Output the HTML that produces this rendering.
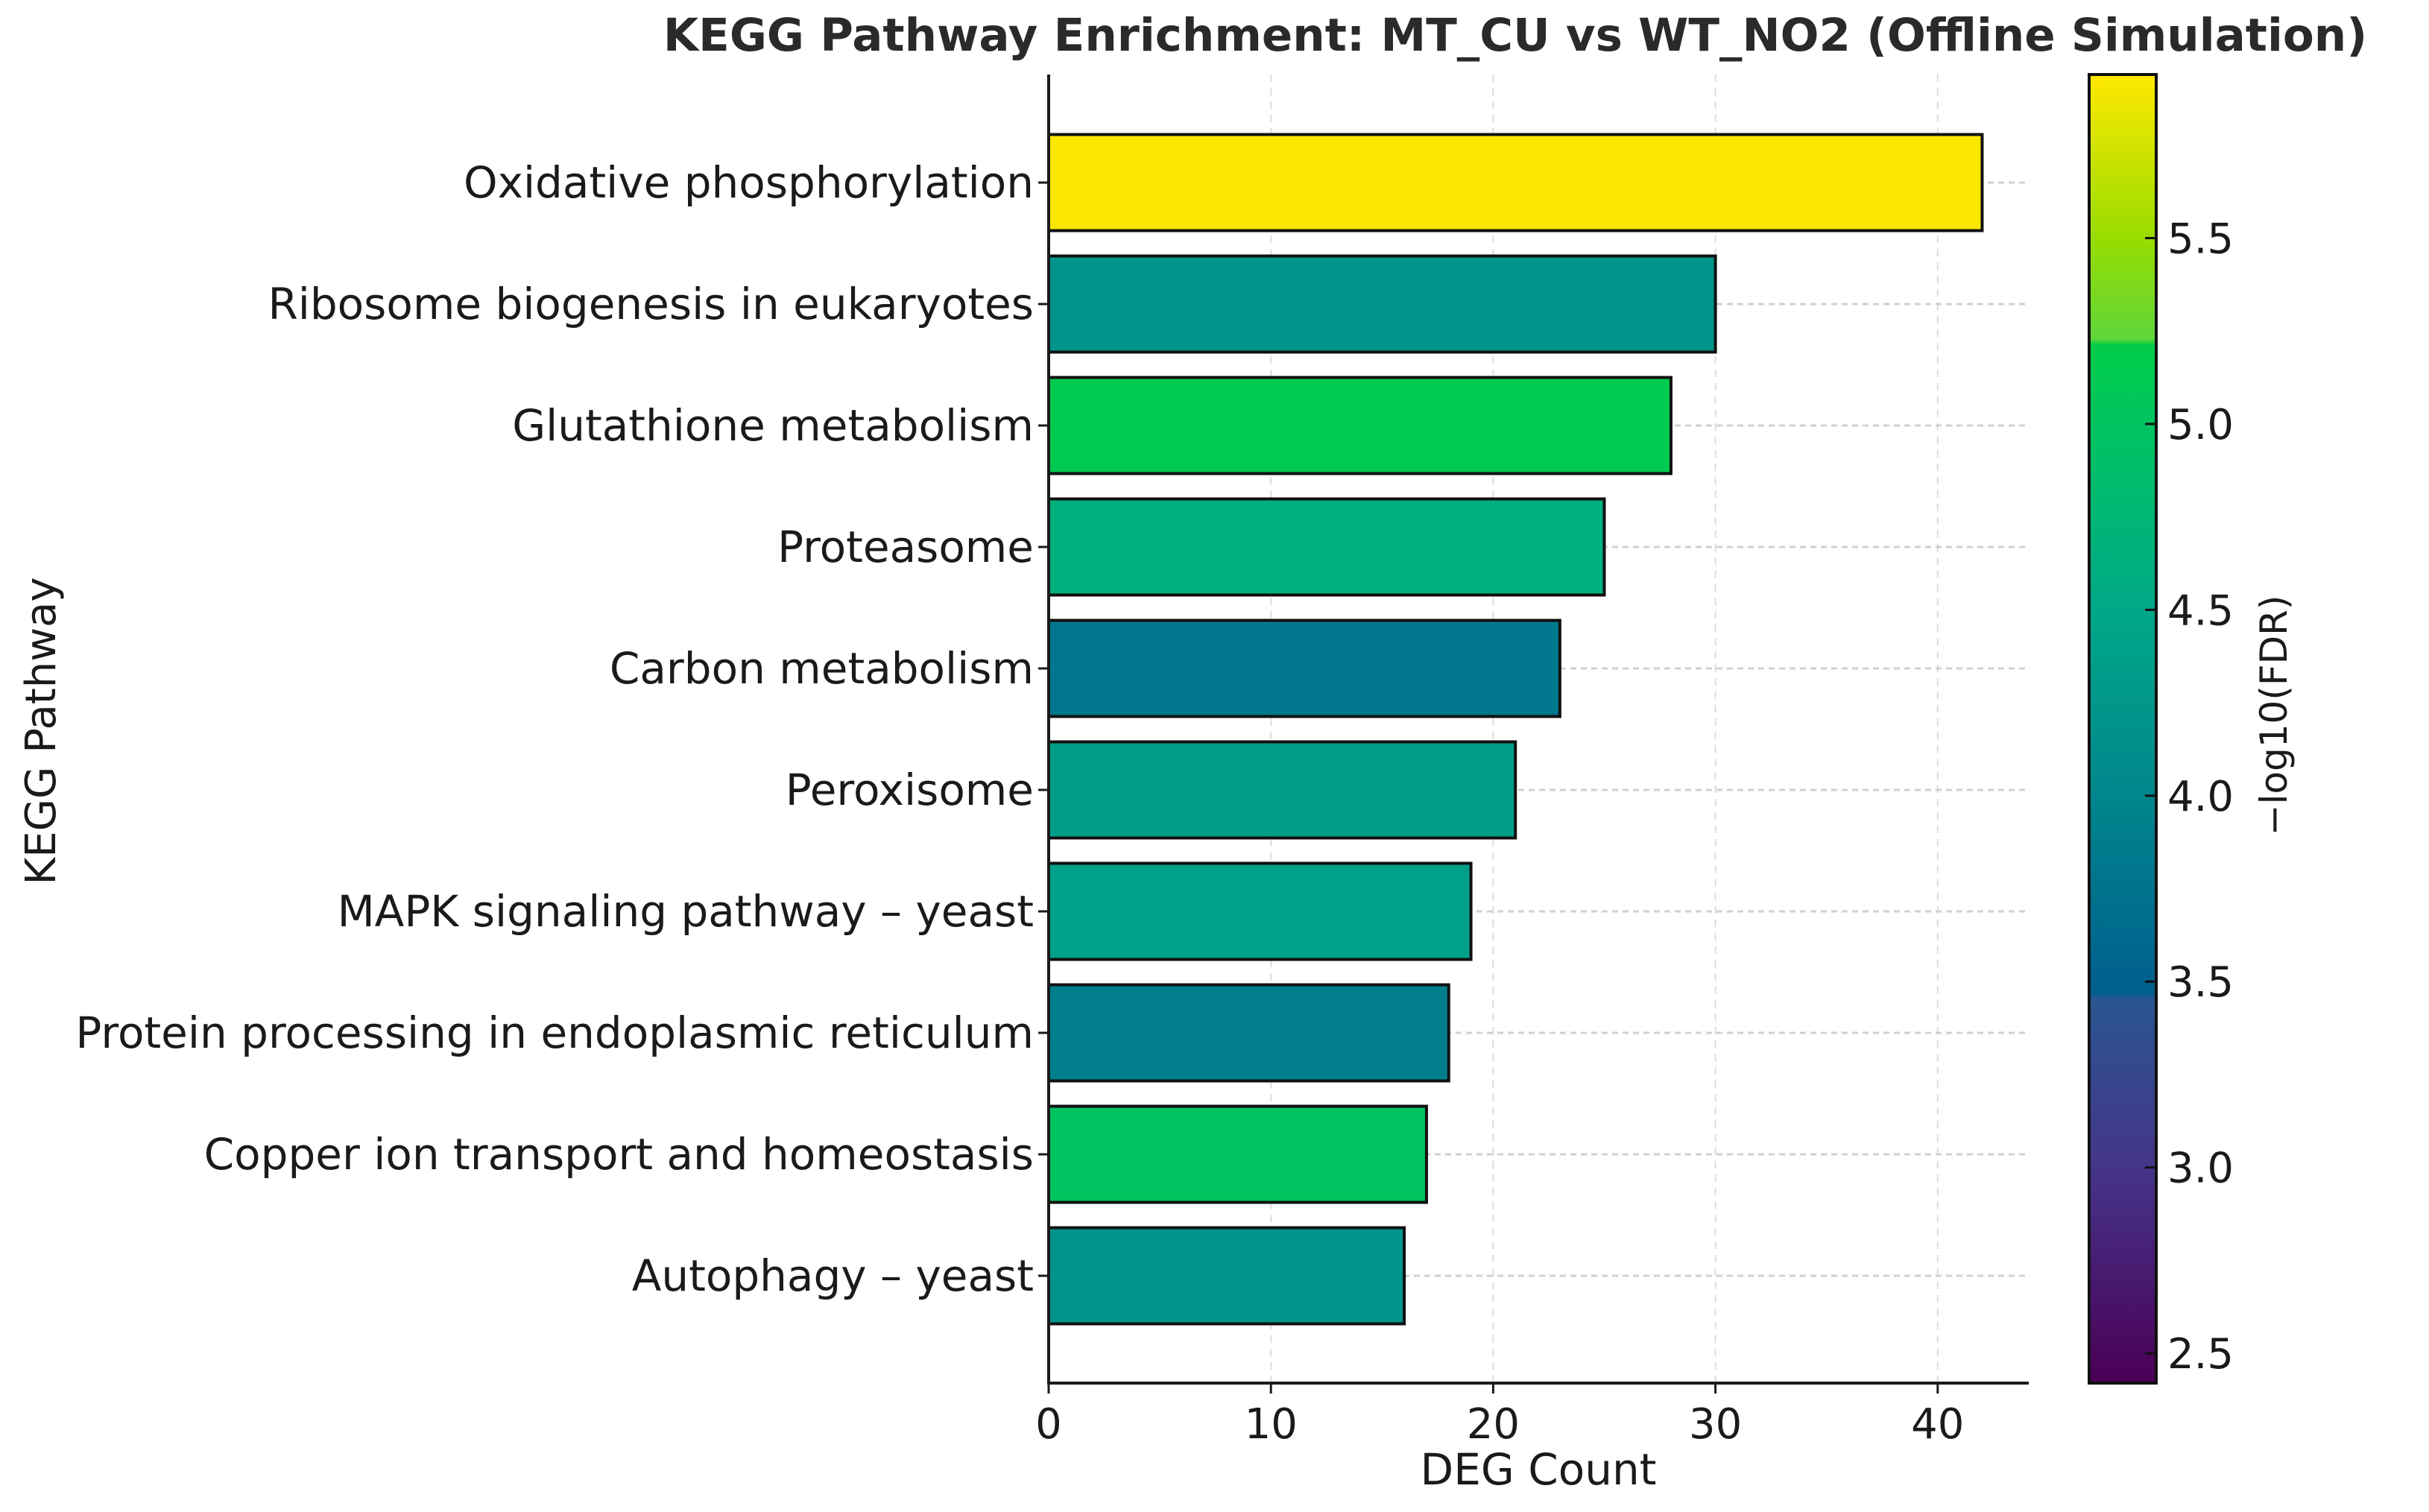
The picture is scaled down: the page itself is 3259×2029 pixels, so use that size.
<!DOCTYPE html>
<html><head><meta charset="utf-8"><style>
body{margin:0;background:#fff}
svg text{font-family:"DejaVu Sans","Liberation Sans",sans-serif;fill:#1a1a1a}
</style></head><body>
<svg id="chart" width="3259" height="2024" xmlns="http://www.w3.org/2000/svg">
<defs>
<linearGradient id="cmap" x1="0" y1="1" x2="0" y2="0">
<stop offset="0" stop-color="#4a0055"/>
<stop offset="0.165" stop-color="#45358a"/>
<stop offset="0.293" stop-color="#2a5590"/>
<stop offset="0.298" stop-color="#005e8e"/>
<stop offset="0.449" stop-color="#00868c"/>
<stop offset="0.591" stop-color="#00a888"/>
<stop offset="0.733" stop-color="#00c460"/>
<stop offset="0.793" stop-color="#00cc48"/>
<stop offset="0.798" stop-color="#5fd63a"/>
<stop offset="0.875" stop-color="#98dc00"/>
<stop offset="1" stop-color="#ffe800"/>
</linearGradient>
</defs>
<text x="2033" y="68" font-size="61" font-weight="bold" text-anchor="middle" style="fill:#2a2a2a">KEGG Pathway Enrichment: MT_CU vs WT_NO2 (Offline Simulation)</text>
<g id="grid"></g><g id="bars"></g><g id="axes"></g><g id="cbar"></g>
</svg>
<script>
const categories=["Oxidative phosphorylation","Ribosome biogenesis in eukaryotes","Glutathione metabolism","Proteasome","Carbon metabolism","Peroxisome","MAPK signaling pathway – yeast","Protein processing in endoplasmic reticulum","Copper ion transport and homeostasis","Autophagy – yeast"];
const counts=[42,30,28,25,23,21,19,18,17,16];
const fdrScores=[5.92,4.2,5.15,4.65,3.8,4.35,4.4,3.9,5.0,4.2];
const xTicks=[0,10,20,30,40];
const cTicks=[2.5,3.0,3.5,4.0,4.5,5.0,5.5];
const NS="http://www.w3.org/2000/svg";
const X0=1407,XPU=29.82,TOPY=100,BOTY=1856,Y0=245,YS=163,BH=129;
const cMin=2.42,cMax=5.94;
const xs=v=>X0+v*XPU, ys=i=>Y0+i*YS, cy=v=>BOTY-(v-cMin)/(cMax-cMin)*(BOTY-TOPY);
const stops=[[0,[0x4a,0,0x55]],[.165,[0x45,0x35,0x8a]],[.293,[0x2a,0x55,0x90]],[.298,[0,0x5e,0x8e]],[.449,[0,0x86,0x8c]],[.591,[0,0xa8,0x88]],[.733,[0,0xc4,0x60]],[.793,[0,0xcc,0x48]],[.798,[0x5f,0xd6,0x3a]],[.875,[0x98,0xdc,0]],[1,[0xff,0xe8,0]]];
function cmap(v){let t=Math.max(0,Math.min(1,(v-cMin)/(cMax-cMin)));for(let i=1;i<stops.length;i++){if(t<=stops[i][0]){const a=stops[i-1],b=stops[i],f=(t-a[0])/(b[0]-a[0]);return 'rgb('+a[1].map((c,k)=>Math.round(c+(b[1][k]-c)*f)).join(',')+')';}}return 'rgb(255,232,0)';}
function mk(p,tag,at,txt){const e=document.createElementNS(NS,tag);for(const k in at)e.setAttribute(k,at[k]);if(txt!==undefined)e.textContent=txt;p.appendChild(e);return e;}
const G=document.getElementById('grid'),B=document.getElementById('bars'),A=document.getElementById('axes'),C=document.getElementById('cbar');
xTicks.forEach(v=>{
 const l=mk(G,'line',{x1:xs(v),x2:xs(v),y1:TOPY,y2:BOTY,stroke:'#dcdcdc','stroke-width':2,'stroke-dasharray':'10,8'});
 
 
 const t=mk(A,'line',{x1:xs(v),x2:xs(v),y1:BOTY,y2:BOTY+14,stroke:'#1a1a1a','stroke-width':3});
 
 
 const tl=mk(A,'text',{x:xs(v),y:BOTY+74,'font-size':56,'text-anchor':'middle'},String(v));
 
 
});
categories.forEach((c,i)=>{
 const g=mk(G,'line',{x1:X0,x2:2722,y1:ys(i),y2:ys(i),stroke:'#d0d0d0','stroke-width':3,'stroke-dasharray':'8,6'});
 
 
 const r=mk(B,'rect',{x:X0,y:ys(i)-BH/2,width:xs(counts[i])-X0,height:BH,fill:cmap(fdrScores[i]),stroke:'#111','stroke-width':4});
 
 
 const t=mk(A,'line',{x1:X0-14,x2:X0,y1:ys(i),y2:ys(i),stroke:'#1a1a1a','stroke-width':3});
 
 
 const tl=mk(A,'text',{x:X0-20,y:ys(i)+20,'font-size':58,'text-anchor':'end'},c);
 
 
});
const ax=mk(A,'path',{d:`M${X0} ${TOPY} V${BOTY} H2722`,fill:'none',stroke:'#1a1a1a','stroke-width':4});


const xt=mk(A,'text',{x:2064,y:1992,'font-size':58,'text-anchor':'middle'},'DEG Count');


const yt=mk(A,'text',{x:0,y:0,'font-size':56,'text-anchor':'middle',transform:'translate(74,981) rotate(-90)'},'KEGG Pathway');


const cb=mk(C,'rect',{x:2803,y:TOPY,width:90,height:BOTY-TOPY,fill:'url(#cmap)',stroke:'#111','stroke-width':4});


cTicks.forEach(v=>{
 const t=mk(C,'line',{x1:2878,x2:2893,y1:cy(v),y2:cy(v),stroke:'#111','stroke-width':3});
 
 
 const tl=mk(C,'text',{x:2908,y:cy(v)+20,'font-size':56},v.toFixed(1));
 
 
});
const cl=mk(C,'text',{x:0,y:0,'font-size':50,'text-anchor':'middle',transform:'translate(3068,960) rotate(-90)'},'−log10(FDR)');


</script>
</body></html>
